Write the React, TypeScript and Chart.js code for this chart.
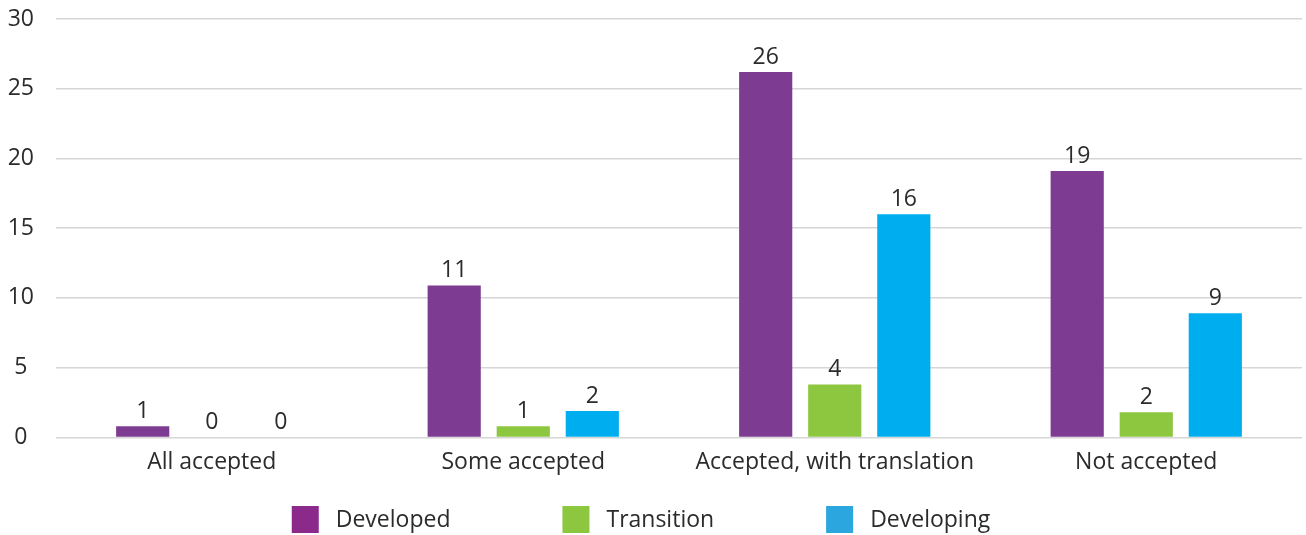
import React, { useEffect, useRef } from "react";
import { Chart, registerables } from "chart.js";

Chart.register(...registerables);

const categories = ["All accepted", "Some accepted", "Accepted, with translation", "Not accepted"];
const seriesNames = ["Developed", "Transition", "Developing"];
const developed = [0.8, 10.9, 26.2, 19.1];
const transition = [0, 0.8, 3.8, 1.8];
const developing = [0, 1.9, 16, 8.9];
const yTicks = [0, 5, 10, 15, 20, 25, 30];

const barColors = ["#7D3C92", "#8DC63F", "#00AEEF"];
const legendColors = ["#8C2A8C", "#8DC63F", "#2BA6DE"];
const FONT = "'Open Sans', Lato, sans-serif";
const FSIZE = 23;
const TEXT = "#2b2b2b";

const valueLabels = {
  id: "valueLabels",
  afterDatasetsDraw(chart: any) {
    const ctx = chart.ctx;
    ctx.save();
    ctx.font = `${FSIZE}px ${FONT}`;
    ctx.fillStyle = TEXT;
    ctx.textAlign = "center";
    ctx.textBaseline = "alphabetic";
    chart.data.datasets.forEach((ds: any, i: number) => {
      const meta = chart.getDatasetMeta(i);
      meta.data.forEach((bar: any, j: number) => {
        const v = ds.data[j];
        ctx.fillText(String(Math.round(v)), bar.x, bar.y - 8);
      });
    });
    ctx.restore();
  },
};

const bottomLegend = {
  id: "bottomLegend",
  afterDraw(chart: any) {
    const ctx = chart.ctx;
    ctx.save();
    ctx.font = `${FSIZE}px ${FONT}`;
    const box = 27;
    const gapText = 17;
    const gapItems = 112;
    const widths = seriesNames.map((n) => box + gapText + ctx.measureText(n).width);
    const total = widths.reduce((a, b) => a + b, 0) + gapItems * (widths.length - 1);
    let x = (chart.width - total) / 2 - 12;
    const cy = 519.5;
    seriesNames.forEach((n, i) => {
      ctx.fillStyle = legendColors[i];
      ctx.fillRect(x, cy - box / 2, box, box);
      ctx.fillStyle = TEXT;
      ctx.textAlign = "left";
      ctx.textBaseline = "middle";
      ctx.fillText(n, x + box + gapText, cy + 1);
      x += widths[i] + gapItems;
    });
    ctx.restore();
  },
};

export default function App() {
  const ref = useRef<HTMLCanvasElement | null>(null);
  useEffect(() => {
    if (!ref.current) return;
    const chart = new Chart(ref.current, {
      type: "bar",
      data: {
        labels: categories,
        datasets: [developed, transition, developing].map((d, i) => ({
          label: seriesNames[i],
          data: d,
          backgroundColor: barColors[i],
          categoryPercentage: 0.665,
          barPercentage: 0.77,
        })),
      },
      options: {
        animation: false,
        responsive: false,
        maintainAspectRatio: false,
        layout: { padding: { top: 0, left: 0, right: 4, bottom: 48 } },
        plugins: {
          legend: { display: false },
          tooltip: { enabled: false },
        },
        scales: {
          x: {
            grid: { display: false, drawTicks: false },
            border: { display: false },
            ticks: { color: TEXT, font: { family: FONT, size: FSIZE }, padding: 11 },
          },
          y: {
            min: 0,
            max: 30,
            afterBuildTicks: (axis: any) => {
              axis.ticks = yTicks.map((v) => ({ value: v }));
            },
            afterFit: (axis: any) => {
              axis.width = 56;
              axis.paddingTop = 19;
              axis.paddingBottom = 14;
            },
            grid: { color: "#d6d6d6", lineWidth: 1.5, drawTicks: false },
            border: { display: false },
            ticks: {
              color: TEXT,
              font: { family: FONT, size: FSIZE },
              padding: 22,
              crossAlign: "center",
            },
          },
        },
      },
      plugins: [valueLabels, bottomLegend],
    });
    return () => chart.destroy();
  }, []);
  return (
    <div style={{ position: "absolute", left: 0, top: 0, width: 1306, height: 535, background: "#fff" }}>
      <canvas ref={ref} width={1306} height={535} style={{ display: "block" }} />
    </div>
  );
}
